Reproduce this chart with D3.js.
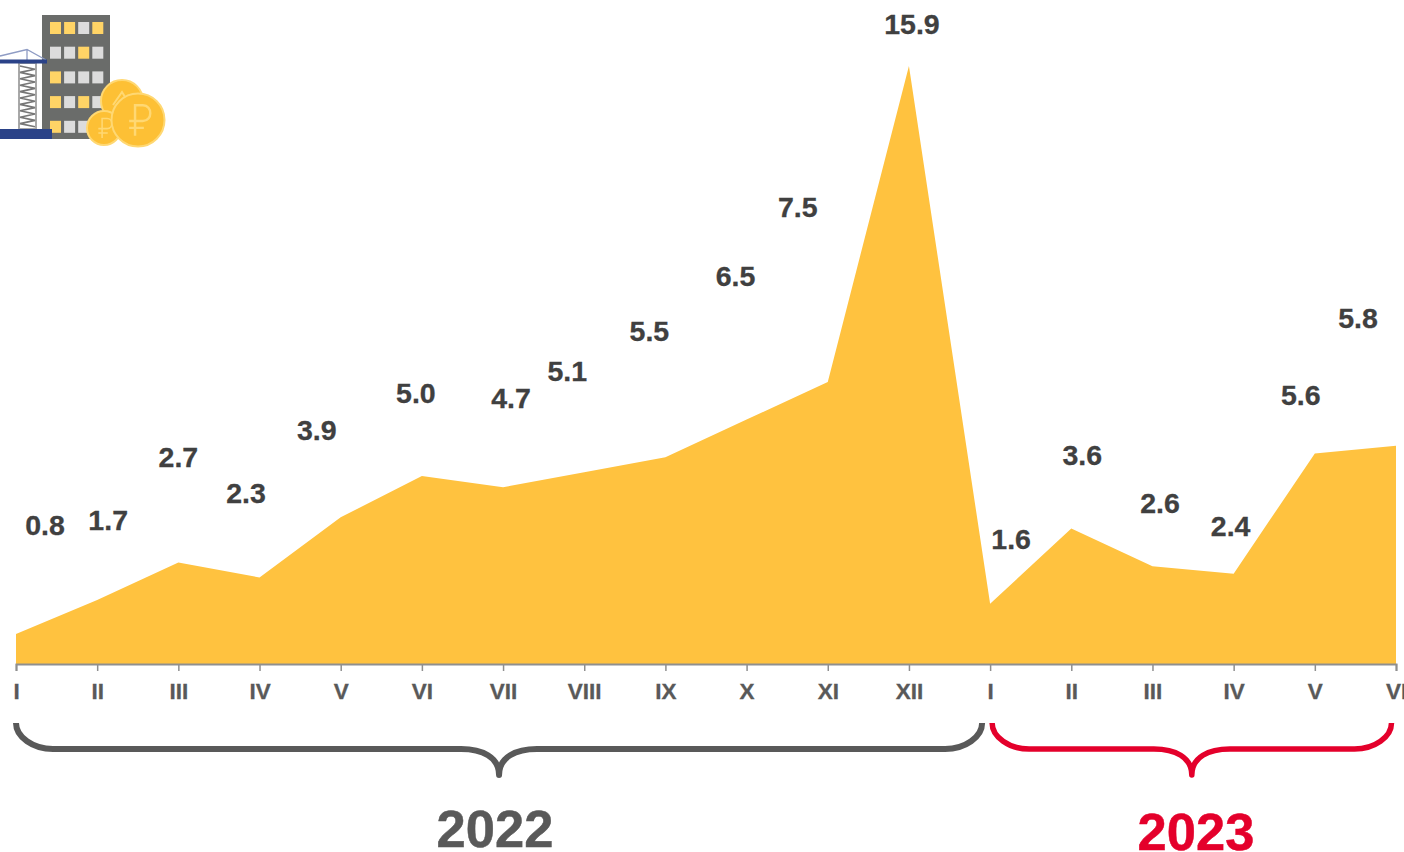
<!DOCTYPE html>
<html>
<head>
<meta charset="utf-8">
<script src="https://cdn.jsdelivr.net/npm/d3@7"></script>
<style>
html, body { margin: 0; padding: 0; background: #fff; overflow: hidden; }
text { font-family: "Liberation Sans", Arial, sans-serif; font-weight: bold; }
</style>
</head>
<body>
<svg id="chart" width="1404" height="852"></svg>
<script>
// data
var months = [ 'I', 'II', 'III', 'IV', 'V', 'VI', 'VII', 'VIII', 'IX', 'X', 'XI', 'XII', 'I', 'II', 'III', 'IV', 'V', 'VI' ];
var values = [ 0.8, 1.7, 2.7, 2.3, 3.9, 5.0, 4.7, 5.1, 5.5, 6.5, 7.5, 15.9, 1.6, 3.6, 2.6, 2.4, 5.6, 5.8 ];
var yearNames = [ '2022', '2023' ];
var yearFirst = [ 0, 12 ];
var yearLast  = [ 12, 17 ];
// icon windows, 1 = lit
var windowRows = [
	  [ 1, 1, 0, 1 ]
	, [ 0, 0, 1, 0 ]
	, [ 1, 0, 0, 0 ]
	, [ 1, 0, 1, 0 ]
	, [ 1, 0, 0, 0 ]
];

// layout, kept apart from the data
var color = { area: '#ffc23f', axis: '#8f8f8f', label: '#404040', tick: '#595959', red: '#e4002b', navy: '#2a4288' };
var labelDx = [ 29, 11, 0, -13.5, -24, -6, 8, -17, -16, -11, -30, 3, 21, 11, 7.5, -3, -14, -38 ];
var labelDy = [ -109, -80, -106, -85, -88, -83, -89, -101, -126, -143.6, -175, -42, -65.5, -73.5, -63, -47.5, -59, -128 ];
var yearStyle = [
	  { stroke: '#595959', width: 6, x0: 0, x1: -8, tx: 495, ty: 829 }
	, { stroke: color.red, width: 5.5, x0: 2, x1: -4.5, tx: 1196, ty: 832 }
];

var svg = d3.select( '#chart' );
var x = d3.scaleLinear().domain( [ 0, months.length - 1 ] ).range( [ 16, 1396 ] );
var y = d3.scaleLinear().domain( [ 0, 15.9 ] ).range( [ 664, 66 ] );

var defs = svg.append( 'defs' );
defs.append( 'filter' )
	.attr( 'id', 'soft' )
	.append( 'feGaussianBlur' )
	.attr( 'stdDeviation', 0.5 );

var area = d3.area()
	.x( ( d, i ) => x( i ) )
	.y0( y( 0 ) )
	.y1( d => y( d ) );
svg.append( 'path' )
	.datum( values )
	.attr( 'd', area )
	.attr( 'fill', color.area );

// month axis
var axis = d3.axisBottom( x )
	.tickValues( d3.range( months.length ) )
	.tickFormat( i => months[ i ] )
	.tickSizeOuter( 0 )
	.tickSize( 7 )
	.tickPadding( 12 );
var gAxis = svg.append( 'g' )
	.attr( 'transform', 'translate(0,' + y( 0 ) + ')' )
	.call( axis );
gAxis.select( '.domain' ).attr( 'stroke', color.axis ).attr( 'stroke-width', 2 );
gAxis.selectAll( '.tick line' ).attr( 'stroke', color.axis ).attr( 'stroke-width', 1.5 );
gAxis.selectAll( '.tick text' )
	.attr( 'fill', color.tick )
	.attr( 'stroke', color.tick )
	.attr( 'stroke-width', 0.3 )
	.style( 'font-size', '22.5px' )
	.style( 'font-family', '"Liberation Sans", Arial, sans-serif' )
	.style( 'font-weight', 'bold' );

// value labels
svg.append( 'g' )
	.selectAll( 'text' )
	.data( values )
	.join( 'text' )
	.attr( 'x', ( d, i ) => x( i ) + labelDx[ i ] )
	.attr( 'y', ( d, i ) => y( d ) + labelDy[ i ] )
	.attr( 'dy', '0.36em' )
	.attr( 'text-anchor', 'middle' )
	.attr( 'fill', color.label )
	.attr( 'stroke', color.label )
	.attr( 'stroke-width', 0.3 )
	.style( 'font-size', '28.5px' )
	.text( d => d.toFixed( 1 ) );

// year braces
function bracePath( x0, x1 ) {
	var mid = ( x0 + x1 ) / 2;
	var top = 723, flat = 749, tip = 775;
	return 'M' + x0 + ',' + top
		+ 'C' + x0 + ',' + ( top + 14 ) + ' ' + ( x0 + 17 ) + ',' + flat + ' ' + ( x0 + 37 ) + ',' + flat
		+ 'L' + ( mid - 38 ) + ',' + flat
		+ 'C' + ( mid - 17 ) + ',' + flat + ' ' + mid + ',' + ( flat + 8 ) + ' ' + mid + ',' + tip
		+ 'C' + mid + ',' + ( flat + 8 ) + ' ' + ( mid + 17 ) + ',' + flat + ' ' + ( mid + 38 ) + ',' + flat
		+ 'L' + ( x1 - 37 ) + ',' + flat
		+ 'C' + ( x1 - 17 ) + ',' + flat + ' ' + x1 + ',' + ( top + 14 ) + ' ' + x1 + ',' + top;
}
yearNames.forEach( function( name, i ) {
	var s = yearStyle[ i ];
	svg.append( 'path' )
		.attr( 'd', bracePath( x( yearFirst[ i ] ) + s.x0, x( yearLast[ i ] ) + s.x1 ) )
		.attr( 'fill', 'none' )
		.attr( 'stroke', s.stroke )
		.attr( 'stroke-width', s.width )
		.attr( 'stroke-linejoin', 'round' );
	svg.append( 'text' )
		.attr( 'x', s.tx )
		.attr( 'y', s.ty )
		.attr( 'dy', '0.35em' )
		.attr( 'text-anchor', 'middle' )
		.attr( 'fill', s.stroke )
		.attr( 'stroke', s.stroke )
		.attr( 'stroke-width', 0.5 )
		.style( 'font-size', '52.5px' )
		.text( name );
} );

// icon, top left
var icon = svg.append( 'g' ).attr( 'filter', 'url(#soft)' );
icon.append( 'rect' ).attr( 'x', 42 ).attr( 'y', 15 ).attr( 'width', 68 ).attr( 'height', 124 ).attr( 'fill', '#6a6c6a' );
windowRows.forEach( function( row, r ) {
	row.forEach( function( lit, c ) {
		icon.append( 'rect' )
			.attr( 'x', 50 + c * 14.1 )
			.attr( 'y', 22 + r * 24.7 )
			.attr( 'width', 11 )
			.attr( 'height', 12 )
			.attr( 'fill', lit ? '#ffd466' : '#dcdcdc' );
	} );
} );
// crane
icon.append( 'rect' ).attr( 'x', 19 ).attr( 'y', 63 ).attr( 'width', 17 ).attr( 'height', 66 ).attr( 'fill', '#fff' ).attr( 'stroke', '#a8a8a8' ).attr( 'stroke-width', 2 );
var zig = 'M20,' + 66;
d3.range( 1, 20 ).forEach( function( k ) {
	zig += 'L' + ( k % 2 ? 35 : 20 ) + ',' + ( 66 + k * 3.2 );
} );
icon.append( 'path' ).attr( 'd', zig ).attr( 'fill', 'none' ).attr( 'stroke', '#777' ).attr( 'stroke-width', 1.6 );
icon.append( 'path' ).attr( 'd', 'M0,56L27,49.5L46,60M27,49.5V60' ).attr( 'fill', 'none' ).attr( 'stroke', '#8f9cc4' ).attr( 'stroke-width', 1.3 );
icon.append( 'rect' ).attr( 'x', 0 ).attr( 'y', 59.5 ).attr( 'width', 47 ).attr( 'height', 4 ).attr( 'fill', color.navy );
icon.append( 'rect' ).attr( 'x', 0 ).attr( 'y', 129 ).attr( 'width', 52 ).attr( 'height', 10 ).attr( 'fill', color.navy );
// coins
function coin( cx, cy, r, glyph ) {
	icon.append( 'circle' ).attr( 'cx', cx ).attr( 'cy', cy ).attr( 'r', r )
		.attr( 'fill', '#fdc034' ).attr( 'stroke', '#ffd873' ).attr( 'stroke-width', 2 );
	if ( !glyph ) return;
	var s = r / 27;
	icon.append( 'path' )
		.attr( 'd', 'M-3,16V-15H5C15,-15 15,1 5,1H-9M-9,8H6' )
		.attr( 'transform', 'translate(' + cx + ',' + cy + ') scale(' + s + ')' )
		.attr( 'fill', 'none' ).attr( 'stroke', '#ffd873' ).attr( 'stroke-width', 2.5 );
}
coin( 122, 101, 21, false );
icon.append( 'path' ).attr( 'd', 'M113,105L122,92L130,105' ).attr( 'fill', 'none' ).attr( 'stroke', '#ffd873' ).attr( 'stroke-width', 2 );
coin( 104, 128, 17, true );
coin( 138, 120, 26.5, true );
</script>
</body>
</html>
